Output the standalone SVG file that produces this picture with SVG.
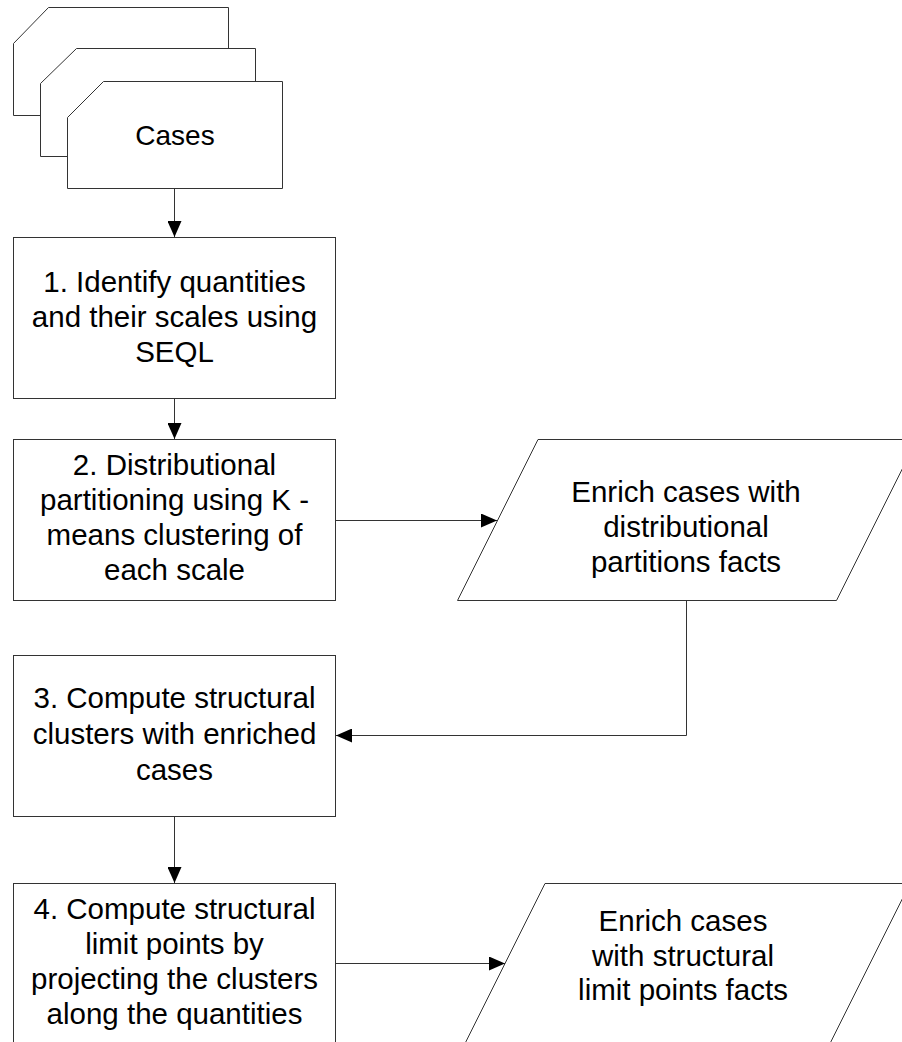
<svg xmlns="http://www.w3.org/2000/svg" width="902" height="1042" viewBox="0 0 902 1042">
<style>
.shape{fill:#ffffff;stroke:#333333;stroke-width:1}
.conn{fill:none;stroke:#333333;stroke-width:1}
.t{font-family:"Liberation Sans",Arial,sans-serif;font-size:29.5px;fill:#000000;text-anchor:middle}
</style>
<defs>
<marker id="arrow" markerUnits="userSpaceOnUse" markerWidth="16" markerHeight="14" refX="16" refY="7" orient="auto">
<path d="M0,0 L16,7 L0,14 Z" fill="#000000"/>
</marker>
</defs>
<rect x="0" y="0" width="902" height="1042" fill="#ffffff"/>
<g id="cases">
<path class="shape" d="M13.5,43.5 L48.5,7.5 L228.5,7.5 L228.5,115.5 L13.5,115.5 Z"/>
<path class="shape" d="M40.5,83.5 L76.5,48.5 L255.5,48.5 L255.5,156.5 L40.5,156.5 Z"/>
<path class="shape" d="M67.5,117.5 L103.5,81.5 L282.5,81.5 L282.5,188.5 L67.5,188.5 Z"/>
<text class="t" x="175" y="145" style="font-size:28px">Cases</text>
</g>
<g id="step1">
<rect class="shape" x="13.5" y="237.5" width="322" height="161"/>
<text class="t" x="174.5" y="292">1. Identify quantities</text>
<text class="t" x="174.5" y="327">and their scales using</text>
<text class="t" x="174.5" y="362">SEQL</text>
</g>
<g id="step2">
<rect class="shape" x="13.5" y="439.5" width="322" height="161"/>
<text class="t" x="174.5" y="475">2. Distributional</text>
<text class="t" x="174.5" y="510">partitioning using K -</text>
<text class="t" x="174.5" y="545">means clustering of</text>
<text class="t" x="174.5" y="580">each scale</text>
</g>
<g id="enrich1">
<path class="shape" d="M538,439.5 L917,439.5 L836.5,600.5 L457.5,600.5 Z"/>
<text class="t" x="686" y="502">Enrich cases with</text>
<text class="t" x="686" y="537">distributional</text>
<text class="t" x="686" y="572">partitions facts</text>
</g>
<g id="step3">
<rect class="shape" x="13.5" y="655.5" width="322" height="161"/>
<text class="t" x="174.5" y="708">3. Compute structural</text>
<text class="t" x="174.5" y="744">clusters with enriched</text>
<text class="t" x="174.5" y="780">cases</text>
</g>
<g id="step4">
<rect class="shape" x="13.5" y="883.5" width="322" height="161"/>
<text class="t" x="174.5" y="919">4. Compute structural</text>
<text class="t" x="174.5" y="954">limit points by</text>
<text class="t" x="174.5" y="989">projecting the clusters</text>
<text class="t" x="174.5" y="1024">along the quantities</text>
</g>
<g id="enrich2">
<path class="shape" d="M545,883.5 L910,883.5 L829.5,1044.5 L464.5,1044.5 Z"/>
<text class="t" x="683" y="931">Enrich cases</text>
<text class="t" x="683" y="966">with structural</text>
<text class="t" x="683" y="1000">limit points facts</text>
</g>
<g id="connectors">
<path class="conn" d="M174.5,188.5 L174.5,237" marker-end="url(#arrow)"/>
<path class="conn" d="M174.5,398.5 L174.5,439" marker-end="url(#arrow)"/>
<path class="conn" d="M335.5,520.5 L497,520.5" marker-end="url(#arrow)"/>
<path class="conn" d="M686.5,600.5 L686.5,735.5 L336,735.5" marker-end="url(#arrow)"/>
<path class="conn" d="M174.5,816.5 L174.5,883" marker-end="url(#arrow)"/>
<path class="conn" d="M335.5,963.5 L505,963.5" marker-end="url(#arrow)"/>
</g>
</svg>
